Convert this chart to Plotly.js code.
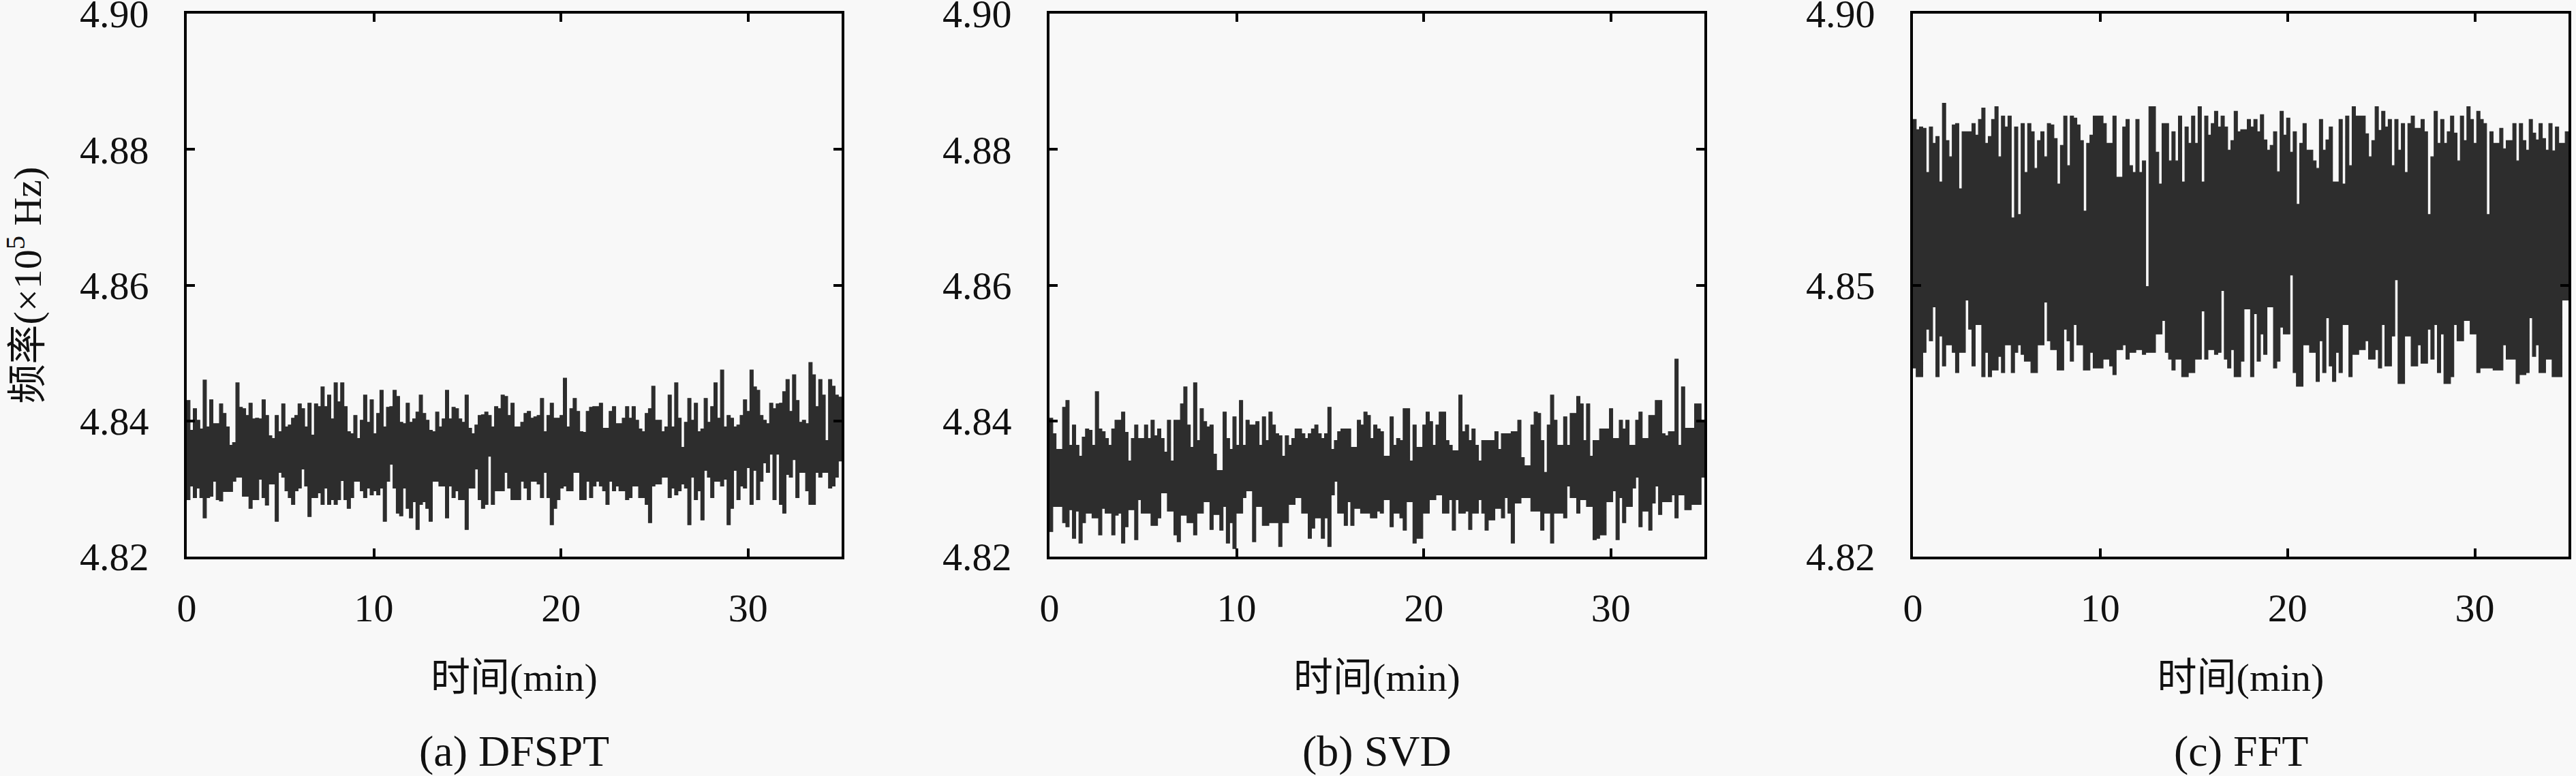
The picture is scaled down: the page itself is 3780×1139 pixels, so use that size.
<!DOCTYPE html>
<html>
<head>
<meta charset="utf-8">
<script src="https://cdn.plot.ly/plotly-3.0.1.min.js"></script>
<style>html,body{margin:0;padding:0;background:#f8f8f8;}#chart{width:3780px;height:1139px;}</style>
</head>
<body>
<div id="chart"></div>
<script>
// sampling interval of the envelope values (minutes)
const DT = 0.175;
const T_END = 35;

// (a) DFSPT: upper / lower envelope of the measured frequency (x10^5 Hz)
const dfsptUpper = [4.8430,4.8386,4.8418,4.8401,4.8388,4.8460,4.8391,4.8431,4.8396,4.8396,
4.8425,4.8411,4.8391,4.8364,4.8368,4.8456,4.8420,4.8418,4.8408,4.8426,
4.8403,4.8404,4.8403,4.8431,4.8408,4.8378,4.8374,4.8408,4.8384,4.8425,
4.8391,4.8394,4.8404,4.8408,4.8425,4.8418,4.8391,4.8426,4.8379,4.8425,
4.8421,4.8450,4.8421,4.8438,4.8403,4.8456,4.8428,4.8456,4.8421,4.8384,
4.8381,4.8408,4.8374,4.8401,4.8438,4.8398,4.8431,4.8381,4.8411,4.8445,
4.8391,4.8420,4.8421,4.8445,4.8436,4.8398,4.8396,4.8426,4.8398,4.8403,
4.8413,4.8438,4.8411,4.8401,4.8386,4.8384,4.8413,4.8391,4.8403,4.8445,
4.8403,4.8420,4.8418,4.8403,4.8398,4.8438,4.8389,4.8381,4.8394,4.8408,
4.8409,4.8413,4.8408,4.8391,4.8421,4.8418,4.8438,4.8436,4.8408,4.8426,
4.8391,4.8391,4.8398,4.8411,4.8414,4.8404,4.8406,4.8408,4.8433,4.8384,
4.8408,4.8426,4.8404,4.8404,4.8408,4.8463,4.8391,4.8418,4.8433,4.8414,
4.8384,4.8383,4.8414,4.8420,4.8421,4.8421,4.8426,4.8389,4.8389,4.8414,
4.8421,4.8396,4.8396,4.8404,4.8421,4.8404,4.8421,4.8401,4.8388,4.8384,
4.8411,4.8418,4.8451,4.8401,4.8401,4.8384,4.8391,4.8438,4.8391,4.8456,
4.8404,4.8361,4.8398,4.8433,4.8401,4.8426,4.8384,4.8388,4.8433,4.8398,
4.8421,4.8456,4.8404,4.8475,4.8391,4.8408,4.8404,4.8391,4.8394,4.8408,
4.8431,4.8414,4.8475,4.8450,4.8445,4.8408,4.8401,4.8396,4.8426,4.8418,
4.8425,4.8426,4.8443,4.8461,4.8414,4.8468,4.8430,4.8398,4.8401,4.8396,
4.8486,4.8468,4.8421,4.8461,4.8438,4.8371,4.8461,4.8451,4.8438,4.8435];
const dfsptLower = [4.8284,4.8304,4.8287,4.8301,4.8287,4.8257,4.8287,4.8289,4.8311,4.8284,
4.8282,4.8296,4.8296,4.8296,4.8311,4.8317,4.8317,4.8289,4.8289,4.8271,
4.8284,4.8284,4.8314,4.8287,4.8276,4.8307,4.8307,4.8252,4.8324,4.8317,
4.8297,4.8287,4.8277,4.8297,4.8301,4.8329,4.8304,4.8259,4.8287,4.8287,
4.8294,4.8277,4.8301,4.8277,4.8284,4.8277,4.8284,4.8312,4.8284,4.8271,
4.8287,4.8311,4.8311,4.8297,4.8287,4.8301,4.8291,4.8297,4.8291,4.8301,
4.8252,4.8311,4.8336,4.8301,4.8264,4.8260,4.8301,4.8271,4.8257,4.8281,
4.8240,4.8277,4.8281,4.8271,4.8252,4.8311,4.8311,4.8304,4.8304,4.8257,
4.8304,4.8287,4.8297,4.8284,4.8284,4.8240,4.8301,4.8301,4.8329,4.8284,
4.8271,4.8277,4.8348,4.8277,4.8297,4.8297,4.8297,4.8324,4.8301,4.8284,
4.8284,4.8284,4.8311,4.8301,4.8284,4.8311,4.8311,4.8307,4.8287,4.8324,
4.8287,4.8247,4.8271,4.8284,4.8301,4.8304,4.8297,4.8297,4.8324,4.8324,
4.8284,4.8284,4.8311,4.8287,4.8304,4.8311,4.8304,4.8297,4.8277,4.8311,
4.8297,4.8304,4.8297,4.8297,4.8284,4.8287,4.8304,4.8304,4.8287,4.8287,
4.8277,4.8250,4.8304,4.8307,4.8307,4.8317,4.8317,4.8287,4.8301,4.8291,
4.8297,4.8307,4.8301,4.8247,4.8317,4.8284,4.8297,4.8254,4.8327,4.8317,
4.8287,4.8311,4.8311,4.8304,4.8314,4.8247,4.8271,4.8327,4.8284,4.8304,
4.8301,4.8331,4.8277,4.8327,4.8284,4.8311,4.8338,4.8324,4.8351,4.8284,
4.8351,4.8277,4.8264,4.8321,4.8317,4.8343,4.8287,4.8324,4.8324,4.8297,
4.8277,4.8277,4.8324,4.8317,4.8324,4.8324,4.8301,4.8304,4.8317,4.8341];

// (b) SVD
const svdUpper = [4.8404,4.8381,4.8358,4.8358,4.8420,4.8430,4.8364,4.8394,4.8364,4.8348,
4.8376,4.8388,4.8386,4.8364,4.8443,4.8388,4.8384,4.8374,4.8364,4.8388,
4.8401,4.8401,4.8413,4.8383,4.8341,4.8374,4.8394,4.8374,4.8374,4.8394,
4.8374,4.8401,4.8378,4.8388,4.8374,4.8354,4.8401,4.8341,4.8401,4.8401,
4.8425,4.8450,4.8394,4.8361,4.8456,4.8371,4.8418,4.8399,4.8391,4.8394,
4.8351,4.8327,4.8327,4.8413,4.8374,4.8358,4.8406,4.8364,4.8430,4.8364,
4.8401,4.8394,4.8394,4.8399,4.8364,4.8406,4.8371,4.8413,4.8394,4.8381,
4.8378,4.8348,4.8378,4.8364,4.8374,4.8388,4.8388,4.8381,4.8374,4.8381,
4.8388,4.8394,4.8381,4.8374,4.8381,4.8420,4.8358,4.8371,4.8384,4.8388,
4.8388,4.8388,4.8361,4.8361,4.8401,4.8394,4.8413,4.8408,4.8374,4.8394,
4.8388,4.8384,4.8348,4.8348,4.8406,4.8364,4.8374,4.8371,4.8418,4.8418,
4.8341,4.8394,4.8361,4.8361,4.8394,4.8413,4.8399,4.8364,4.8394,4.8413,
4.8413,4.8371,4.8364,4.8356,4.8356,4.8438,4.8384,4.8394,4.8371,4.8388,
4.8364,4.8341,4.8371,4.8371,4.8371,4.8371,4.8384,4.8358,4.8381,4.8381,
4.8381,4.8384,4.8384,4.8401,4.8346,4.8334,4.8334,4.8394,4.8413,4.8411,
4.8371,4.8324,4.8394,4.8438,4.8401,4.8364,4.8364,4.8406,4.8364,4.8411,
4.8411,4.8436,4.8425,4.8371,4.8425,4.8348,4.8371,4.8371,4.8388,4.8388,
4.8388,4.8418,4.8374,4.8374,4.8401,4.8388,4.8401,4.8364,4.8364,4.8401,
4.8413,4.8374,4.8374,4.8408,4.8408,4.8430,4.8430,4.8381,4.8378,4.8384,
4.8384,4.8491,4.8364,4.8450,4.8389,4.8389,4.8389,4.8425,4.8425,4.8398];
const svdLower = [4.8237,4.8274,4.8274,4.8274,4.8250,4.8244,4.8269,4.8227,4.8267,4.8220,
4.8250,4.8264,4.8264,4.8257,4.8257,4.8232,4.8271,4.8264,4.8264,4.8232,
4.8261,4.8264,4.8220,4.8244,4.8269,4.8269,4.8225,4.8284,4.8264,4.8264,
4.8264,4.8246,4.8246,4.8257,4.8294,4.8294,4.8267,4.8267,4.8232,4.8222,
4.8261,4.8261,4.8250,4.8250,4.8232,4.8264,4.8264,4.8281,4.8281,4.8240,
4.8262,4.8262,4.8239,4.8274,4.8220,4.8250,4.8212,4.8264,4.8264,4.8287,
4.8297,4.8297,4.8222,4.8274,4.8274,4.8246,4.8246,4.8250,4.8250,4.8250,
4.8215,4.8250,4.8250,4.8277,4.8277,4.8287,4.8287,4.8264,4.8264,4.8227,
4.8242,4.8257,4.8257,4.8227,4.8257,4.8215,4.8291,4.8311,4.8264,4.8264,
4.8246,4.8281,4.8246,4.8271,4.8271,4.8264,4.8264,4.8264,4.8257,4.8257,
4.8267,4.8264,4.8284,4.8284,4.8244,4.8264,4.8264,4.8257,4.8239,4.8281,
4.8281,4.8220,4.8227,4.8227,4.8264,4.8264,4.8284,4.8284,4.8291,4.8291,
4.8264,4.8264,4.8284,4.8239,4.8284,4.8264,4.8264,4.8267,4.8240,4.8264,
4.8264,4.8284,4.8264,4.8239,4.8254,4.8254,4.8271,4.8271,4.8257,4.8287,
4.8264,4.8220,4.8279,4.8279,4.8287,4.8287,4.8287,4.8267,4.8267,4.8267,
4.8239,4.8264,4.8264,4.8220,4.8264,4.8264,4.8264,4.8257,4.8304,4.8287,
4.8287,4.8264,4.8284,4.8284,4.8274,4.8274,4.8225,4.8227,4.8232,4.8232,
4.8281,4.8281,4.8297,4.8225,4.8287,4.8250,4.8274,4.8274,4.8301,4.8317,
4.8244,4.8267,4.8267,4.8239,4.8279,4.8304,4.8262,4.8281,4.8281,4.8281,
4.8291,4.8257,4.8291,4.8291,4.8269,4.8269,4.8277,4.8277,4.8277,4.8317];

// (c) FFT (values in the panel's own axis units)
const fftUpper = [4.8844,4.8829,4.8833,4.8831,4.8766,4.8833,4.8809,4.8819,4.8752,4.8868,
4.8813,4.8789,4.8836,4.8838,4.8742,4.8826,4.8826,4.8826,4.8838,4.8821,
4.8844,4.8861,4.8809,4.8819,4.8844,4.8863,4.8789,4.8849,4.8833,4.8849,
4.8699,4.8833,4.8704,4.8838,4.8766,4.8838,4.8826,4.8772,4.8813,4.8826,
4.8789,4.8838,4.8836,4.8816,4.8749,4.8806,4.8849,4.8776,4.8849,4.8846,
4.8836,4.8813,4.8709,4.8809,4.8821,4.8849,4.8849,4.8849,4.8838,4.8809,
4.8809,4.8849,4.8759,4.8759,4.8833,4.8844,4.8776,4.8766,4.8844,4.8766,
4.8783,4.8598,4.8863,4.8863,4.8796,4.8749,4.8838,4.8838,4.8783,4.8826,
4.8783,4.8849,4.8752,4.8833,4.8809,4.8849,4.8809,4.8863,4.8752,4.8849,
4.8821,4.8838,4.8856,4.8833,4.8849,4.8833,4.8799,4.8813,4.8856,4.8826,
4.8829,4.8829,4.8844,4.8833,4.8844,4.8826,4.8851,4.8814,4.8799,4.8806,
4.8826,4.8767,4.8856,4.8821,4.8846,4.8796,4.8826,4.8719,4.8809,4.8838,
4.8799,4.8799,4.8783,4.8772,4.8844,4.8799,4.8814,4.8833,4.8752,4.8752,
4.8844,4.8749,4.8849,4.8776,4.8863,4.8849,4.8849,4.8849,4.8823,4.8789,
4.8813,4.8863,4.8828,4.8856,4.8833,4.8844,4.8776,4.8844,4.8799,4.8838,
4.8766,4.8838,4.8849,4.8831,4.8831,4.8844,4.8826,4.8704,4.8789,4.8856,
4.8809,4.8844,4.8809,4.8826,4.8849,4.8824,4.8783,4.8849,4.8813,4.8863,
4.8844,4.8809,4.8856,4.8844,4.8838,4.8704,4.8826,4.8809,4.8809,4.8831,
4.8801,4.8813,4.8813,4.8838,4.8783,4.8838,4.8813,4.8799,4.8844,4.8824,
4.8814,4.8838,4.8816,4.8799,4.8838,4.8798,4.8833,4.8809,4.8809,4.8826];
const fftLower = [4.8478,4.8465,4.8465,4.8501,4.8535,4.8518,4.8568,4.8465,4.8525,4.8481,
4.8512,4.8512,4.8501,4.8471,4.8501,4.8501,4.8578,4.8535,4.8481,4.8542,
4.8542,4.8465,4.8501,4.8465,4.8475,4.8475,4.8495,4.8471,4.8512,4.8512,
4.8471,4.8501,4.8512,4.8498,4.8488,4.8488,4.8471,4.8471,4.8512,4.8512,
4.8575,4.8518,4.8505,4.8505,4.8475,4.8475,4.8535,4.8518,4.8488,4.8542,
4.8512,4.8512,4.8475,4.8475,4.8501,4.8478,4.8478,4.8478,4.8491,4.8491,
4.8481,4.8468,4.8505,4.8505,4.8512,4.8491,4.8501,4.8501,4.8505,4.8505,
4.8498,4.8501,4.8501,4.8501,4.8528,4.8528,4.8548,4.8501,4.8491,4.8475,
4.8491,4.8491,4.8465,4.8465,4.8471,4.8471,4.8491,4.8491,4.8562,4.8491,
4.8505,4.8505,4.8498,4.8501,4.8592,4.8491,4.8478,4.8505,4.8465,4.8465,
4.8488,4.8565,4.8565,4.8465,4.8558,4.8488,4.8528,4.8498,4.8568,4.8568,
4.8478,4.8488,4.8538,4.8528,4.8528,4.8615,4.8471,4.8451,4.8451,4.8512,
4.8512,4.8501,4.8501,4.8458,4.8518,4.8471,4.8552,4.8481,4.8458,4.8501,
4.8471,4.8542,4.8542,4.8465,4.8498,4.8498,4.8505,4.8505,4.8518,4.8491,
4.8491,4.8505,4.8478,4.8542,4.8481,4.8481,4.8525,4.8608,4.8455,4.8455,
4.8525,4.8525,4.8481,4.8481,4.8512,4.8485,4.8485,4.8535,4.8491,4.8542,
4.8471,4.8528,4.8455,4.8455,4.8465,4.8542,4.8518,4.8518,4.8548,4.8548,
4.8528,4.8528,4.8471,4.8478,4.8478,4.8478,4.8478,4.8475,4.8475,4.8475,
4.8512,4.8491,4.8491,4.8491,4.8455,4.8468,4.8468,4.8471,4.8552,4.8495,
4.8512,4.8471,4.8471,4.8491,4.8491,4.8465,4.8465,4.8465,4.8578,4.8578];

// axis ticks and labels
const xTickVals = [0, 10, 20, 30];
const yTickVals = [4.82, 4.84, 4.86, 4.88, 4.90];
const yTickText = ['4.82', '4.84', '4.86', '4.88', '4.90'];
const fftTickVals = [4.82, 4.86, 4.90];
const fftTickText = ['4.82', '4.85', '4.90'];
const captions = ['(a) DFSPT', '(b) SVD', '(c) FFT'];
const xTitle = '时间(min)';
const yTitle = '频率(×10<sup>5</sup> Hz)';

const W = 3780, H = 1139;
const INK = '#2d2d2d';
const BG = '#f8f8f8';
const SERIF = 'Liberation Serif, "Noto Sans CJK SC", serif';

function band(upper, lower, xa, ya) {
  const x = upper.map((_, i) => i * DT).concat([T_END]);
  const yu = upper.concat([upper[upper.length - 1]]);
  const yl = lower.concat([lower[lower.length - 1]]);
  return [
    {x: x, y: yu, xaxis: xa, yaxis: ya, type: 'scatter', mode: 'lines',
     line: {shape: 'hv', color: INK, width: 1.2}, hoverinfo: 'skip', showlegend: false},
    {x: x, y: yl, xaxis: xa, yaxis: ya, type: 'scatter', mode: 'lines',
     line: {shape: 'hv', color: INK, width: 1.2}, fill: 'tonexty', fillcolor: INK,
     hoverinfo: 'skip', showlegend: false}
  ];
}

const data = [].concat(
  band(dfsptUpper, dfsptLower, 'x', 'y'),
  band(svdUpper, svdLower, 'x2', 'y2'),
  band(fftUpper, fftLower, 'x3', 'y3')
);

const panelsPx = [[274, 1235], [1540, 2501], [2807, 3769]];
const yDom = [1 - 817 / H, 1 - 20 / H];

function xAxis(i) {
  return {
    domain: [panelsPx[i][0] / W, panelsPx[i][1] / W],
    anchor: i === 0 ? 'y' : 'y' + (i + 1),
    range: [0, 35], tickvals: xTickVals, ticktext: xTickVals.map(String),
    ticks: 'inside', ticklen: 12, tickwidth: 4, tickcolor: '#000',
    showline: true, linewidth: 4, linecolor: '#000', mirror: 'ticks',
    showgrid: false, zeroline: false, ticklabelstandoff: 21,
    ticklabeloverflow: 'allow',
    tickfont: {family: SERIF, size: 58, color: '#111'},
    title: {text: xTitle, font: {family: SERIF, size: 58, color: '#111'}, standoff: 51}
  };
}
function yAxis(i) {
  const fft = i === 2;
  const ax = {
    domain: yDom,
    anchor: i === 0 ? 'x' : 'x' + (i + 1),
    range: [4.82, 4.90],
    tickvals: fft ? fftTickVals : yTickVals,
    ticktext: fft ? fftTickText : yTickText,
    ticks: 'inside', ticklen: 12, tickwidth: 4, tickcolor: '#000',
    showline: true, linewidth: 4, linecolor: '#000', mirror: 'ticks',
    showgrid: false, zeroline: false, ticklabelstandoff: 40,
    ticklabeloverflow: 'allow',
    tickfont: {family: SERIF, size: 58, color: '#111'}
  };
  if (i === 0) ax.title = {text: yTitle, font: {family: SERIF, size: 58, color: '#111'}, standoff: 72};
  return ax;
}

const annotations = captions.map((c, i) => ({
  text: c, xref: 'paper', yref: 'paper',
  x: (panelsPx[i][0] + panelsPx[i][1]) / 2 / W, y: 1 - 1102 / H,
  xanchor: 'center', yanchor: 'middle', showarrow: false,
  font: {family: SERIF, size: 64, color: '#111'}
}));

const layout = {
  width: W, height: H,
  margin: {l: 0, r: 0, t: 0, b: 0},
  paper_bgcolor: BG, plot_bgcolor: BG,
  showlegend: false,
  xaxis: xAxis(0), xaxis2: xAxis(1), xaxis3: xAxis(2),
  yaxis: yAxis(0), yaxis2: yAxis(1), yaxis3: yAxis(2),
  annotations: annotations
};

Plotly.newPlot('chart', data, layout, {staticPlot: true, displayModeBar: false});
</script>
</body>
</html>
